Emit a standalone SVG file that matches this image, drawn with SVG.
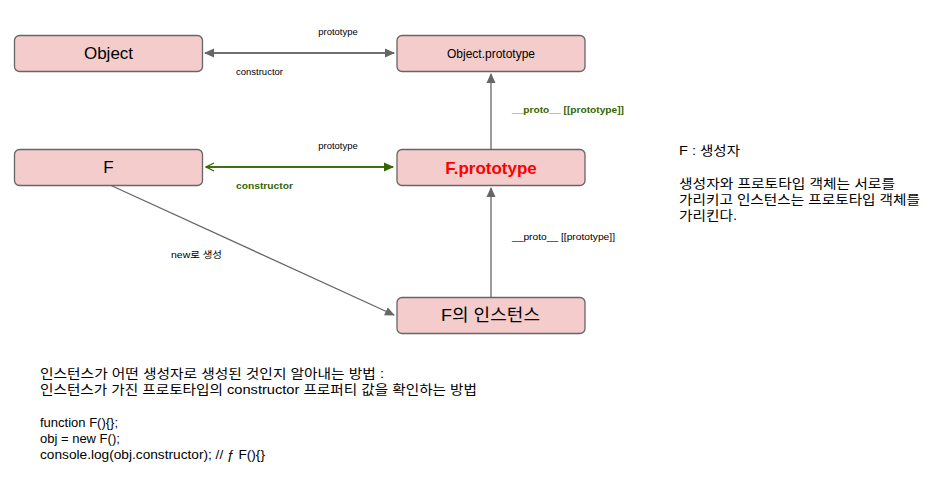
<svg xmlns="http://www.w3.org/2000/svg" width="950" height="484" viewBox="0 0 950 484">
<defs>
<style>
text{font-family:"Liberation Sans","Noto Sans CJK KR",Arial,sans-serif;fill:#000}
.box{fill:#f4cccc;stroke:#666;stroke-width:1.3}
.lbl{font-size:16px;text-anchor:middle}
.sm{font-size:9.5px}
.gr{fill:#336600;font-weight:bold}
.note{font-size:13px}
.ln{fill:none;stroke:#666;stroke-width:1.3}
</style>
<marker id="ag" markerWidth="10" markerHeight="10" refX="9" refY="5" orient="auto" markerUnits="userSpaceOnUse"><path d="M0,0.5 L10,5 L0,9.5 Z" fill="#666"/></marker>
<marker id="agr" markerWidth="10" markerHeight="10" refX="9" refY="5" orient="auto" markerUnits="userSpaceOnUse"><path d="M0,0.5 L10,5 L0,9.5 Z" fill="#336600"/></marker>
<marker id="agro" markerWidth="10" markerHeight="10" refX="9" refY="5" orient="auto" markerUnits="userSpaceOnUse"><path d="M1,1 L9,5 L1,9" fill="none" stroke="#336600" stroke-width="1.3"/></marker>
</defs>
<g id="edges">
<line class="ln" x1="205" y1="53" x2="394" y2="53" marker-end="url(#ag)"/>
<line class="ln" x1="394" y1="53" x2="205" y2="53" marker-end="url(#ag)"/>
<line x1="393" y1="167" x2="206" y2="167" stroke="#336600" stroke-width="1.3" marker-end="url(#agro)"/>
<line x1="206" y1="167" x2="393" y2="167" stroke="#336600" stroke-width="1.3" marker-end="url(#agr)"/>
<line class="ln" x1="491" y1="149" x2="491" y2="74" marker-end="url(#ag)"/>
<line class="ln" x1="491" y1="297" x2="491" y2="188" marker-end="url(#ag)"/>
<line class="ln" x1="110" y1="185" x2="394" y2="315" marker-end="url(#ag)"/>
<text class="sm" x="338" y="35" text-anchor="middle">prototype</text>
<text class="sm" x="236" y="75">constructor</text>
<text class="sm" x="338" y="149" text-anchor="middle">prototype</text>
<text class="sm gr" x="236" y="189" textLength="57" lengthAdjust="spacingAndGlyphs">constructor</text>
<text class="sm gr" x="512" y="113" textLength="112" lengthAdjust="spacingAndGlyphs">__proto__ [[prototype]]</text>
<text class="sm" x="512" y="240" textLength="103" lengthAdjust="spacingAndGlyphs">__proto__ [[prototype]]</text>
<text class="sm" x="171" y="258" textLength="51" lengthAdjust="spacingAndGlyphs">new로 생성</text>
</g>
<g id="object">
<rect class="box" x="14.5" y="35.5" width="188" height="36" rx="5"/>
<text class="lbl" x="108.5" y="59" style="font-size:17px">Object</text>
</g>
<g id="objectPrototype">
<rect class="box" x="397" y="35.5" width="188" height="36" rx="5"/>
<text class="lbl" x="491" y="57.5" style="font-size:12px">Object.prototype</text>
</g>
<g id="f">
<rect class="box" x="14.5" y="149.5" width="188" height="36" rx="5"/>
<text class="lbl" x="108.5" y="173" style="font-size:17px">F</text>
</g>
<g id="fPrototype">
<rect class="box" x="397" y="149.5" width="188" height="36" rx="5"/>
<text class="lbl" x="491" y="173.5" style="fill:#ff0000;font-weight:bold;font-size:17px">F.prototype</text>
</g>
<g id="instance">
<rect class="box" x="397" y="297.5" width="188" height="36" rx="5"/>
<text x="441" y="321" style="font-size:17px" textLength="99" lengthAdjust="spacingAndGlyphs">F의 인스턴스</text>
</g>
<g id="sideNote">
<text class="note" x="679" y="155" textLength="61" lengthAdjust="spacingAndGlyphs">F : 생성자</text>
<text class="note" x="679" y="188" textLength="216" lengthAdjust="spacingAndGlyphs">생성자와 프로토타입 객체는 서로를</text>
<text class="note" x="679" y="204" textLength="241" lengthAdjust="spacingAndGlyphs">가리키고 인스턴스는 프로토타입 객체를</text>
<text class="note" x="679" y="220" textLength="58" lengthAdjust="spacingAndGlyphs">가리킨다.</text>
</g>
<g id="bottomNote">
<text class="note" x="40" y="378" textLength="344" lengthAdjust="spacingAndGlyphs">인스턴스가 어떤 생성자로 생성된 것인지 알아내는 방법 :</text>
<text class="note" x="40" y="394" textLength="437" lengthAdjust="spacingAndGlyphs">인스턴스가 가진 프로토타입의 constructor 프로퍼티 값을 확인하는 방법</text>
<text class="note" x="40" y="427">function F(){};</text>
<text class="note" x="40" y="443">obj = new F();</text>
<text class="note" x="40" y="459" textLength="225" lengthAdjust="spacingAndGlyphs">console.log(obj.constructor); // ƒ F(){}</text>
</g>
</svg>
